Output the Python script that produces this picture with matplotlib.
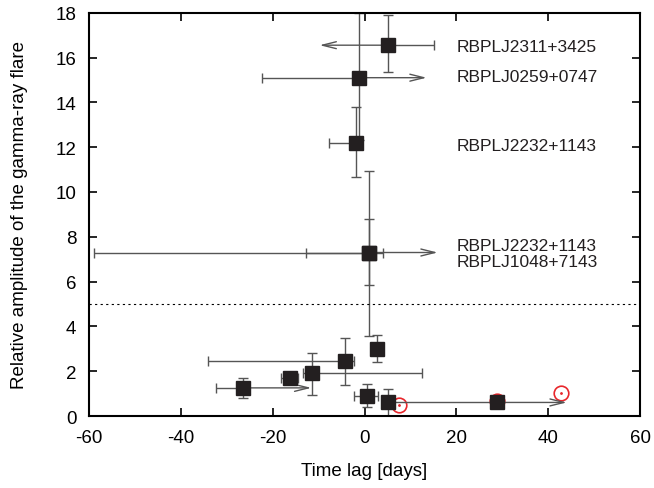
import numpy as np
import matplotlib
matplotlib.use("Agg")
import matplotlib.pyplot as plt

plt.rcParams['font.family'] = ['Liberation Sans', 'DejaVu Sans']
plt.rcParams['axes.unicode_minus'] = False

# time lag [days] and relative amplitude of each flare
lag = [5.2, -1.3, -1.8, 1.0, 1.0, 2.8, -4.2, -11.4, -16.2, -26.4, 0.6, 5.2, 28.9]
amp = [16.55, 15.1, 12.2, 7.3, 7.3, 3.0, 2.47, 1.91, 1.68, 1.26, 0.91, 0.64, 0.61]
# error bar ends
lag_lo = [-9.8, -22.3, -7.85, -58.8, -12.7, 2.8, -34.0, -13.5, -18.3, -32.4, -2.3, 5.2, 5.5]
lag_hi = [15.1, 13.5, -1.8, 15.9, 4.1, 2.8, -2.2, 12.6, -14.5, -11.6, 3.0, 5.2, 44.0]
amp_lo = [15.36, 12.3, 10.68, 5.87, 3.59, 2.43, 1.40, 0.94, 1.5, 0.80, 0.40, 0.0, 0.55]
amp_hi = [17.9, 18.0, 13.77, 8.79, 10.92, 3.62, 3.49, 2.80, 1.8, 1.69, 1.43, 1.21, 0.70]
# limits drawn as arrows
arrow_lo = [True, False, False, False, False, False, False, False, False, False, False, False, False]
arrow_hi = [False, True, False, True, False, False, False, False, False, True, False, False, True]

# red circles
circ_lag = [7.5, 42.8, 28.9]
circ_amp = [0.49, 1.01, 0.66]

names = ["RBPLJ2311+3425", "RBPLJ0259+0747", "RBPLJ2232+1143", "RBPLJ2232+1143", "RBPLJ1048+7143"]
name_y = [16.5, 15.14, 12.08, 7.6, 6.9]

fig = plt.figure(figsize=(6.54, 4.89), dpi=100)
ax = fig.add_axes([0.136, 0.147, 0.843, 0.825])

ecol = '#555555'
ax.plot(circ_lag, circ_amp, 'o', mfc='none', mec='#e8262b', ms=10.5, mew=1.2, zorder=1)
ax.plot(circ_lag, circ_amp, '.', color='#e8262b', ms=2, zorder=1)

for i in range(len(lag)):
    x, y = lag[i], amp[i]
    xl = 0 if arrow_lo[i] else x - lag_lo[i]
    xh = 0 if arrow_hi[i] else lag_hi[i] - x
    ax.errorbar(x, y, xerr=[[xl], [xh]], yerr=[[y - amp_lo[i]], [amp_hi[i] - y]],
                fmt='none', ecolor=ecol, elinewidth=1, capsize=3.6, capthick=1, zorder=2)
    if arrow_lo[i]:
        ax.annotate("", xy=(lag_lo[i], y), xytext=(x, y),
                    arrowprops=dict(arrowstyle='->, head_length=1.0, head_width=0.25',
                                    color=ecol, lw=1, shrinkA=0, shrinkB=0), zorder=2)
    if arrow_hi[i]:
        ax.annotate("", xy=(lag_hi[i], y), xytext=(x, y),
                    arrowprops=dict(arrowstyle='->, head_length=1.0, head_width=0.25',
                                    color=ecol, lw=1, shrinkA=0, shrinkB=0), zorder=2)

ax.plot(lag, amp, 's', color='#231f20', ms=10, zorder=3)

ax.axhline(5, color='black', ls=(0, (2, 3)), lw=0.8)

for n, yy in zip(names, name_y):
    ax.text(20, yy, n, fontsize=12.5, va='center', ha='left', color='#231f20')

ax.set_xlim(-60, 60)
ax.set_ylim(0, 18)
ax.set_xticks(np.arange(-60, 61, 20))
ax.set_yticks(np.arange(0, 19, 2))
ax.tick_params(direction='in', top=True, right=True, length=6, width=1.2, labelsize=13.5)
ax.tick_params(axis='x', pad=9)
ax.tick_params(axis='y', pad=9)
for s in ax.spines.values():
    s.set_linewidth(1.5)
ax.set_xlabel("Time lag [days]", fontsize=13.5, labelpad=12)
ax.set_ylabel("Relative amplitude of the gamma-ray flare", fontsize=13.5, labelpad=20)

fig.savefig("out.png", dpi=100)
